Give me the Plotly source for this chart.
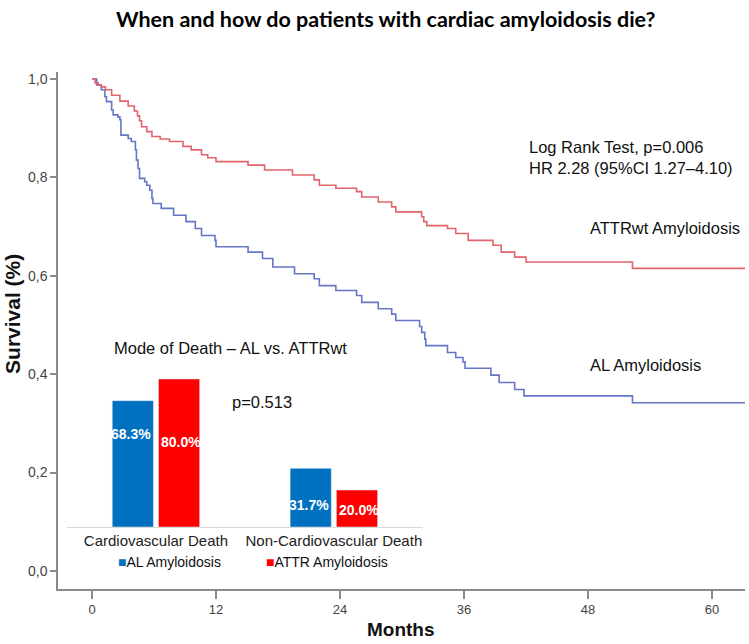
import plotly.graph_objects as go

# Kaplan-Meier curves (months, survival fraction)
attr_months = [0, 0.3, 0.6, 0.9, 1.3, 1.9, 2.7, 3.5, 4.1, 4.4, 4.6, 4.8, 5.3, 5.8, 6.6,
               7.5, 8.8, 9.6, 10.6, 11.2, 12.0, 15.1, 16.7, 19.4, 21.5, 22.0, 23.6, 25.6,
               26.1, 27.7, 29.0, 29.4, 31.9, 32.1, 32.4, 34.4, 35.2, 36.4, 38.8, 39.6,
               40.9, 42.0, 52.3, 63.2]
attr_surv = [1.0, 0.992, 0.988, 0.984, 0.978, 0.967, 0.955, 0.945, 0.935, 0.925, 0.915,
             0.903, 0.893, 0.883, 0.878, 0.873, 0.863, 0.856, 0.846, 0.840, 0.832, 0.825,
             0.815, 0.805, 0.795, 0.784, 0.778, 0.771, 0.760, 0.750, 0.740, 0.730, 0.720,
             0.710, 0.702, 0.696, 0.686, 0.672, 0.662, 0.648, 0.638, 0.628, 0.615, 0.615]

al_months = [0, 0.45, 0.9, 1.25, 1.4, 1.9, 2.05, 2.5, 2.7, 2.8, 3.5, 3.8, 4.2, 4.3, 4.45,
             4.6, 5.1, 5.3, 5.6, 5.8, 5.9, 6.7, 7.9, 9.1, 10.0, 10.6, 11.9, 12.0, 15.1,
             16.5, 17.5, 19.6, 21.5, 22.0, 23.6, 25.6, 26.1, 27.7, 29.0, 29.4, 31.7, 31.9,
             32.2, 32.3, 34.4, 35.2, 35.9, 36.1, 38.6, 39.4, 40.9, 41.8, 52.3, 63.2]
al_surv = [1.0, 0.988, 0.978, 0.964, 0.954, 0.937, 0.927, 0.923, 0.917, 0.886, 0.879,
           0.873, 0.856, 0.835, 0.818, 0.798, 0.791, 0.784, 0.774, 0.757, 0.747, 0.737,
           0.723, 0.710, 0.696, 0.682, 0.672, 0.659, 0.648, 0.635, 0.618, 0.604, 0.594,
           0.580, 0.570, 0.560, 0.546, 0.533, 0.522, 0.509, 0.497, 0.485, 0.471, 0.458,
           0.444, 0.434, 0.425, 0.412, 0.398, 0.383, 0.369, 0.356, 0.342, 0.342]

# Inset: mode of death
modes = ["Cardiovascular Death", "Non-Cardiovascular Death"]
al_pct = [68.3, 31.7]
attr_pct = [80.0, 20.0]

month_ticks = [0, 12, 24, 36, 48, 60]
surv_ticks = [0.0, 0.2, 0.4, 0.6, 0.8, 1.0]
surv_labels = ["0,0", "0,2", "0,4", "0,6", "0,8", "1,0"]

ARIAL = "Liberation Sans, Arial, sans-serif"
AXIS_GREY = "#8a8a8a"
BAR_BLUE = "#0070C0"
BAR_RED = "#FF0000"

fig = go.Figure()

# survival curves
fig.add_trace(go.Scatter(x=al_months, y=al_surv, mode="lines",
                         line=dict(shape="hv", color="#6676C6", width=1.6),
                         name="AL Amyloidosis", showlegend=False))
fig.add_trace(go.Scatter(x=attr_months, y=attr_surv, mode="lines",
                         line=dict(shape="hv", color="#E2646D", width=1.6),
                         name="ATTRwt Amyloidosis", showlegend=False))

# inset bars
fig.add_trace(go.Bar(x=modes, y=al_pct, marker_color=BAR_BLUE, name="AL Amyloidosis",
                     xaxis="x2", yaxis="y2", showlegend=False))
fig.add_trace(go.Bar(x=modes, y=attr_pct, marker_color=BAR_RED, name="ATTR Amyloidosis",
                     xaxis="x2", yaxis="y2", showlegend=False))

annotations = []

# percentage labels inside the bars
label_heights = {(0, 0): 50, (0, 1): 46, (1, 0): 12, (1, 1): 9}
for i, mode in enumerate(modes):
    for j, vals in enumerate([al_pct, attr_pct]):
        annotations.append(dict(
            x=mode, y=label_heights[(i, j)], xref="x2", yref="y2",
            xshift=-25 if j == 0 else 25, showarrow=False,
            text="<b>%.1f%%</b>" % vals[i],
            font=dict(family=ARIAL, size=14, color="white")))

# free text on the plot area (paper coords)
def note(text, x, y, size=16.5, xanchor="left", yanchor="middle", **kw):
    annotations.append(dict(text=text, x=x, y=y, xref="paper", yref="paper",
                            xanchor=xanchor, yanchor=yanchor, showarrow=False,
                            align="left", font=dict(family=ARIAL, size=size, color="#111"),
                            **kw))

note("Log Rank Test, p=0.006<br>HR 2.28 (95%CI 1.27–4.10)", 0.6827, 0.876, yanchor="top")
note("ATTRwt Amyloidosis", 0.771, 0.698)
note("AL Amyloidosis", 0.771, 0.433)
note("Mode of Death – AL vs. ATTRwt", 0.079, 0.466)
note("p=0.513", 0.2504, 0.3617)
note("<span style='color:%s'>■</span>AL Amyloidosis" % BAR_BLUE, 0.085, 0.052, size=14)
note("<span style='color:%s'>■</span>ATTR Amyloidosis" % BAR_RED, 0.3, 0.052, size=14)

# axis titles
note("<b>Survival (%)</b>", -0.0655, 0.532, size=21, xanchor="center", textangle=-90)
note("<b>Months</b>", 0.499, -0.079, size=19, xanchor="center")

fig.update_layout(
    width=749, height=644,
    margin=dict(l=58, r=4, t=72, b=55),
    plot_bgcolor="white", paper_bgcolor="white",
    title=dict(text="<b>When and how do patients with cardiac amyloidosis die?</b>",
               x=0.515, xanchor="center", y=0.97, yanchor="middle",
               font=dict(family="Lato, Open Sans, sans-serif", size=21.5, color="black")),
    barmode="group", bargap=0.48, bargroupgap=0.11,
    xaxis=dict(range=[-3.29, 63.19], tickvals=month_ticks, showline=True,
               linecolor=AXIS_GREY, linewidth=1.5, ticks="outside", ticklen=8,
               tickcolor=AXIS_GREY, tickwidth=1.5, showgrid=False, zeroline=False,
               tickfont=dict(family=ARIAL, size=13, color="#444")),
    yaxis=dict(range=[-0.0366, 1.0142], tickvals=surv_ticks, ticktext=surv_labels,
               showline=True, linecolor=AXIS_GREY, linewidth=1.5, ticks="outside",
               ticklen=6, tickcolor=AXIS_GREY, tickwidth=1.5, showgrid=False,
               zeroline=False, tickfont=dict(family=ARIAL, size=14, color="#444")),
    xaxis2=dict(domain=[0.0131, 0.531], anchor="y2", type="category", range=[-0.5, 1.5],
                showline=True, linecolor="#d9d9d9", linewidth=1, ticks="",
                showgrid=False, tickfont=dict(family=ARIAL, size=15, color="#222")),
    yaxis2=dict(domain=[0.1199, 0.4778], anchor="x2", range=[0, 100], visible=False),
    annotations=annotations,
)

# drop the browser's default page margin so the figure sits at the window's corner
fig.write_html("out.html", config={"displayModeBar": False},
               post_script="document.body.style.margin='0';document.body.style.overflow='hidden';")
